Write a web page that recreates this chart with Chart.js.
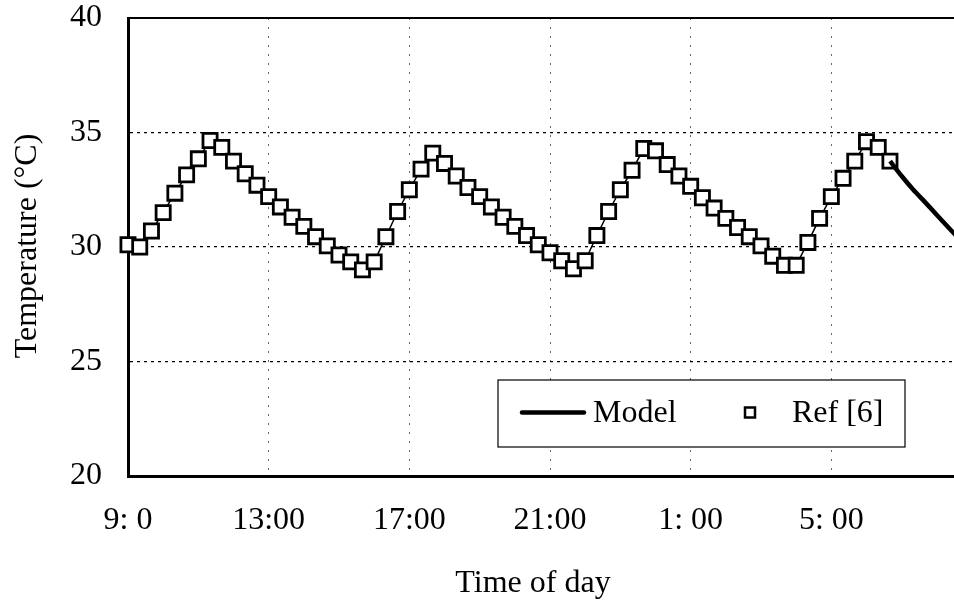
<!DOCTYPE html>
<html>
<head>
<meta charset="utf-8">
<script src="https://cdn.jsdelivr.net/npm/chart.js@4.4.1/dist/chart.umd.min.js"></script>
<style>
  html, body { margin: 0; padding: 0; background: #fff; overflow: hidden; }
  #wrap { width: 990px; height: 609px; }
</style>
</head>
<body>
<div id="wrap"><canvas id="tempChart" width="990" height="609"></canvas></div>
<script>
// reference readings, one every 20 minutes starting at 9:00
const refStepHours = 20 / 60;
const refTemps = [
    30.1, 30.0, 30.7, 31.5, 32.35, 33.15, 33.85, 34.65, 34.35, 33.75,
    33.2, 32.7, 32.2, 31.75, 31.3, 30.9, 30.45, 30.05, 29.65, 29.35,
    29.0, 29.35, 30.45, 31.55, 32.5, 33.4, 34.1, 33.65, 33.1, 32.6,
    32.2, 31.75, 31.3, 30.9, 30.5, 30.1, 29.75, 29.4, 29.05, 29.4,
    30.5, 31.55, 32.5, 33.35, 34.3, 34.2, 33.6, 33.1, 32.65, 32.15,
    31.7, 31.25, 30.85, 30.45, 30.05, 29.6, 29.2, 29.2, 30.2, 31.25,
    32.2, 33.0, 33.75, 34.6, 34.35, 33.75
];

// model curve (hours after 9:00)
const modelHours = [21.67, 22, 22.33, 22.67, 23, 23.33, 23.67, 24];
const modelTemps = [33.75, 33.1, 32.5, 31.95, 31.4, 30.85, 30.3, 29.8];

const xTickLabels = ["9: 0", "13:00", "17:00", "21:00", "1: 00", "5: 00"];
const yMin = 20, yMax = 40, yStep = 5;
const xMax = 24, xStep = 4;

const seriesNames = ["Model", "Ref [6]"];

const serif = "'Liberation Serif', 'Times New Roman', serif";

const refPoints = refTemps.map((t, i) => ({ x: i * refStepHours, y: t }));
const modelPoints = modelHours.map((h, i) => ({ x: h, y: modelTemps[i] }));

const extras = {
    id: "extras",
    afterDatasetsDraw(chart) {
        const { ctx, chartArea: a } = chart;
        ctx.save();
        // top frame line
        ctx.strokeStyle = "#000";
        ctx.lineWidth = 2;
        ctx.beginPath();
        ctx.moveTo(a.left, a.top);
        ctx.lineTo(a.right, a.top);
        ctx.stroke();

        // legend box inside the plot
        const lx = a.left + 370, ly = a.top + 362, lw = 407, lh = 67;
        const cy = ly + lh / 2 - 1;
        ctx.fillStyle = "#fff";
        ctx.fillRect(lx, ly, lw, lh);
        ctx.lineWidth = 1.2;
        ctx.strokeRect(lx, ly, lw, lh);

        ctx.lineWidth = 4.5;
        ctx.lineCap = "round";
        ctx.beginPath();
        ctx.moveTo(lx + 24, cy);
        ctx.lineTo(lx + 86, cy);
        ctx.stroke();

        ctx.fillStyle = "#000";
        ctx.font = "32px " + serif;
        ctx.textBaseline = "middle";
        ctx.textAlign = "left";
        ctx.fillText(chart.data.datasets[0].label, lx + 95, cy + 1);

        ctx.lineWidth = 2.5;
        ctx.lineCap = "butt";
        ctx.strokeRect(lx + 247, cy - 5, 10, 10);
        ctx.fillText(chart.data.datasets[1].label, lx + 294, cy + 1);
        ctx.restore();
    },
    afterDraw(chart) {
        const { ctx, chartArea: a } = chart;
        ctx.save();
        ctx.fillStyle = "#000";
        ctx.textAlign = "center";
        ctx.textBaseline = "middle";
        ctx.font = "32px " + serif;
        ctx.fillText("Time of day", a.left + 405, a.bottom + 108);

        ctx.translate(a.left - 100, a.top + 228);
        ctx.rotate(-Math.PI / 2);
        ctx.fillText("Temperature (°C)", 0, 0);
        ctx.restore();
    }
};

new Chart(document.getElementById("tempChart"), {
    type: "line",
    data: {
        datasets: [
            {
                label: seriesNames[0],
                data: modelPoints,
                borderColor: "#000",
                borderWidth: 4.5,
                pointRadius: 0,
                fill: false,
                tension: 0.2,
                clip: false,
            },
            {
                label: seriesNames[1],
                data: refPoints,
                borderColor: "#000",
                borderWidth: 1.5,
                pointStyle: "rect",
                pointRadius: 10,
                pointBorderWidth: 2.8,
                pointBackgroundColor: "#fff",
                pointBorderColor: "#000",
                fill: false,
                tension: 0,
                clip: false,
            },
        ],
    },
    options: {
        responsive: false,
        animation: false,
        layout: { padding: { top: 18, right: 18, left: 0, bottom: 0 } },
        plugins: {
            legend: { display: false },
            tooltip: { enabled: false },
        },
        scales: {
            x: {
                type: "linear",
                min: 0,
                max: xMax,
                afterFit: (s) => { s.height = 133; s.paddingLeft = 0; s.paddingRight = 0; },
                ticks: {
                    stepSize: xStep,
                    padding: 25,
                    color: "#000",
                    font: { family: serif, size: 32 },
                    maxRotation: 0,
                    autoSkip: false,
                    callback: (v, i) => xTickLabels[i] || "",
                },
                grid: {
                    drawTicks: false,
                    lineWidth: 1,
                    color: (c) => (c.tick && (c.tick.value === 0 || c.tick.value === xMax) ? "rgba(0,0,0,0)" : "#666"),
                },
                border: { color: "#000", width: 3, dash: [2, 7] },
            },
            y: {
                min: yMin,
                max: yMax,
                afterFit: (s) => { s.width = 128; s.paddingTop = 0; s.paddingBottom = 0; },
                ticks: {
                    stepSize: yStep,
                    padding: 26,
                    color: "#000",
                    font: { family: serif, size: 32 },
                },
                grid: {
                    drawTicks: false,
                    lineWidth: 1.3,
                    color: (c) => (c.tick && (c.tick.value === yMin || c.tick.value === yMax) ? "rgba(0,0,0,0)" : "#000"),
                },
                border: { color: "#000", width: 3, dash: [3, 4] },
            },
        },
    },
    plugins: [extras],
});
</script>
</body>
</html>
